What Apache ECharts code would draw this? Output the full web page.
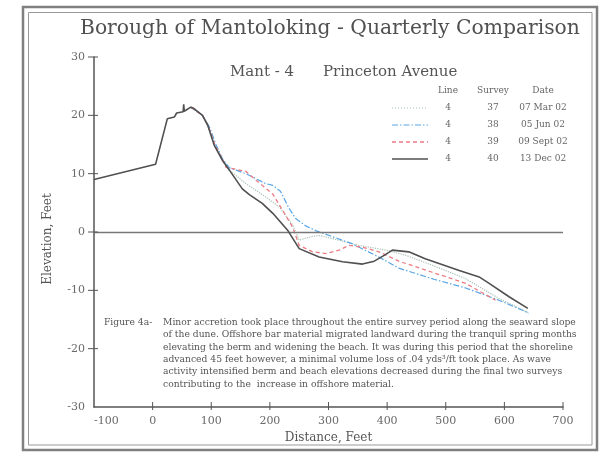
<!DOCTYPE html>
<html>
<head>
<meta charset="utf-8">
<script src="https://cdn.jsdelivr.net/npm/echarts@6/dist/echarts.min.js"></script>
<style>
  html, body { margin: 0; padding: 0; background: #fff; }
  #chart { width: 601px; height: 456px; }
</style>
</head>
<body>
<div id="chart"></div>
<script>
// profile surveys, [distance ft, elevation ft]
var survey37 = [[65, 21.4], [85, 20.0], [94, 18.3], [105, 15.0], [119, 12.4], [131, 10.6], [159, 8.3],
  [193, 6.0], [216, 4.3], [239, 1.2], [250, -1.4], [270, -0.8], [284, -0.6], [306, -1.1], [352, -2.3],
  [398, -3.1], [432, -4.0], [477, -5.7], [534, -8.0], [591, -11.4], [640, -13.8]];
var survey38 = [[65, 21.4], [85, 20.0], [97, 18.0], [108, 15.0], [120, 12.4], [131, 11.0], [159, 10.0],
  [193, 8.3], [205, 8.0], [218, 7.0], [232, 4.2], [244, 2.3], [262, 1.0], [279, 0.2], [340, -2.0],
  [386, -4.3], [420, -6.2], [480, -8.1], [534, -9.6], [591, -11.7], [642, -13.9]];
var survey39 = [[65, 21.4], [85, 20.0], [95, 18.2], [106, 15.0], [119, 12.5], [125, 11.1], [159, 10.4],
  [182, 8.4], [205, 6.5], [220, 4.0], [239, 0.8], [250, -2.3], [273, -3.4], [296, -3.7], [318, -3.1],
  [335, -2.3], [358, -2.6], [386, -3.4], [420, -5.0], [477, -6.9], [534, -8.8], [585, -11.7]];
var survey40 = [[-100, 9.0], [5, 11.6], [25, 19.4], [37, 19.7], [41, 20.4], [52, 20.6], [53, 21.9],
  [54, 20.7], [65, 21.4], [70, 21.2], [85, 20.0], [94, 18.3], [105, 14.9], [119, 12.3], [131, 10.6],
  [153, 7.4], [165, 6.4], [187, 4.9], [205, 3.2], [231, 0.2], [250, -2.85], [284, -4.3], [324, -5.1],
  [358, -5.5], [378, -5.0], [395, -4.0], [409, -3.1], [437, -3.4], [465, -4.6], [523, -6.6],
  [557, -7.7], [574, -8.8], [608, -11.1], [640, -13.1]];

// tick positions (ticks cross the axis lines)
var xTicks = [0, 100, 200, 300, 400, 500, 600, 700];
var yTicks = [-20, -10, 0, 10, 20, 30];

// legend table
var legendLine = ['4', '4', '4', '4'];
var legendSurvey = ['37', '38', '39', '40'];
var legendDate = ['07 Mar 02', '05 Jun 02', '09 Sept 02', '13 Dec 02'];

var noteLines = [
  'Minor accretion took place throughout the entire survey period along the seaward slope',
  'of the dune. Offshore bar material migrated landward during the tranquil spring months',
  'elevating the berm and widening the beach. It was during this period that the shoreline',
  'advanced 45 feet however, a minimal volume loss of .04 yds\u00b3/ft took place. As wave',
  'activity intensified berm and beach elevations decreased during the final two surveys',
  'contributing to the  increase in offshore material.'
];

var serif = 'DejaVu Serif';
var axisColor = '#555';
var styles = [
  { color: '#a6c2b2', type: 'dotted', width: 1.2 },
  { color: '#5aa6e6', type: [6, 2, 1.5, 2], width: 1.2 },
  { color: '#ec7b84', type: [4, 3], width: 1.3 },
  { color: '#505050', type: 'solid', width: 1.6 }
];

var chart = echarts.init(document.getElementById('chart'), null, { renderer: 'canvas' });

// legend graphics (table at upper right)
var legendGraphics = [];
var colX = [448, 493, 543];
var headY = 91;
['Line', 'Survey', 'Date'].forEach(function (h, i) {
  legendGraphics.push({
    type: 'text', x: colX[i], y: headY,
    style: { text: h, font: '9px "' + serif + '"', fill: '#666', align: 'center', verticalAlign: 'middle' }
  });
});
var rowY = [108, 125, 142, 159];
for (var i = 0; i < 4; i++) {
  legendGraphics.push({
    type: 'line',
    shape: { x1: 392, y1: rowY[i], x2: 428, y2: rowY[i] },
    style: {
      stroke: styles[i].color, lineWidth: styles[i].width,
      lineDash: styles[i].type === 'solid' ? null : (styles[i].type === 'dotted' ? [1, 2] : styles[i].type)
    }
  });
  [legendLine[i], legendSurvey[i], legendDate[i]].forEach(function (t, j) {
    legendGraphics.push({
      type: 'text', x: colX[j], y: rowY[i],
      style: { text: t, font: '9px "' + serif + '"', fill: '#666', align: 'center', verticalAlign: 'middle' }
    });
  });
}

var series = [survey37, survey38, survey39, survey40].map(function (d, i) {
  var s = {
    name: 'Survey ' + legendSurvey[i],
    type: 'line',
    data: d,
    symbol: 'none',
    lineStyle: styles[i],
    z: 2 + i
  };
  if (i === 3) {
    s.markLine = {
      silent: true, symbol: 'none', label: { show: false },
      lineStyle: { color: '#777', type: 'solid', width: 1.3 },
      data: [{ yAxis: 0 }]
    };
  }
  return s;
});

// crossing tick marks, placed through the axis scales
series.push({
  type: 'custom', silent: true, clip: false, z: 10,
  data: xTicks.map(function (v) { return [v, -30]; }),
  renderItem: function (params, api) {
    var p = api.coord([api.value(0), api.value(1)]);
    return { type: 'line', shape: { x1: p[0], y1: p[1] - 5, x2: p[0], y2: p[1] + 3 },
      style: { stroke: axisColor, lineWidth: 1 } };
  }
});
series.push({
  type: 'custom', silent: true, clip: false, z: 10,
  data: yTicks.map(function (v) { return [-100, v]; }),
  renderItem: function (params, api) {
    var p = api.coord([api.value(0), api.value(1)]);
    return { type: 'line', shape: { x1: p[0] - 6, y1: p[1], x2: p[0] + 4, y2: p[1] },
      style: { stroke: axisColor, lineWidth: 1 } };
  }
});

var option = {
  backgroundColor: '#fff',
  animation: false,
  grid: { left: 94, right: 38, top: 57, bottom: 49 },
  xAxis: {
    type: 'value', min: -100, max: 700, interval: 100,
    name: 'Distance, Feet', nameLocation: 'middle', nameGap: 24,
    nameTextStyle: { fontFamily: serif, fontSize: 12, color: axisColor },
    axisLine: { onZero: false, lineStyle: { color: axisColor, width: 1.5 } },
    axisTick: { show: false },
    axisLabel: { fontFamily: serif, fontSize: 11, color: '#6a6a6a', margin: 9, alignMinLabel: 'left' },
    splitLine: { show: false }
  },
  yAxis: {
    type: 'value', min: -30, max: 30, interval: 10,
    name: 'Elevation, Feet', nameLocation: 'middle', nameGap: 40,
    nameTextStyle: { fontFamily: serif, fontSize: 12, color: axisColor, padding: [0, 14, 0, 0] },
    axisLine: { show: true, onZero: false, lineStyle: { color: axisColor, width: 1.5 } },
    axisTick: { show: false },
    axisLabel: { fontFamily: serif, fontSize: 11, color: '#6a6a6a', margin: 9 },
    splitLine: { show: false }
  },
  series: series,
  graphic: [
    // double frame
    { type: 'rect', shape: { x: 23, y: 7, width: 574, height: 443 },
      style: { fill: null, stroke: '#808080', lineWidth: 2.5 } },
    { type: 'rect', shape: { x: 28.5, y: 12.5, width: 563.5, height: 432.5 },
      style: { fill: null, stroke: '#999', lineWidth: 1 } },
    { type: 'text', x: 80, y: 29,
      style: { text: 'Borough of Mantoloking - Quarterly Comparison', font: '20.3px "' + serif + '"',
        fill: '#505050', verticalAlign: 'middle' } },
    { type: 'text', x: 230, y: 72,
      style: { text: 'Mant - 4', font: '15px "' + serif + '"', fill: '#555', verticalAlign: 'middle' } },
    { type: 'text', x: 323, y: 72,
      style: { text: 'Princeton Avenue', font: '15px "' + serif + '"', fill: '#555', verticalAlign: 'middle' } },
    { type: 'text', x: 104, y: 322.5,
      style: { text: 'Figure 4a-', font: '9.2px "' + serif + '"', fill: '#555', verticalAlign: 'middle' } },
    { type: 'text', x: 163, y: 316.5,
      style: { text: noteLines.join('\n'), font: '9.2px "' + serif + '"', fill: '#555',
        verticalAlign: 'top', lineHeight: 12.3 } }
  ].concat(legendGraphics)
};

chart.setOption(option);
</script>
</body>
</html>
